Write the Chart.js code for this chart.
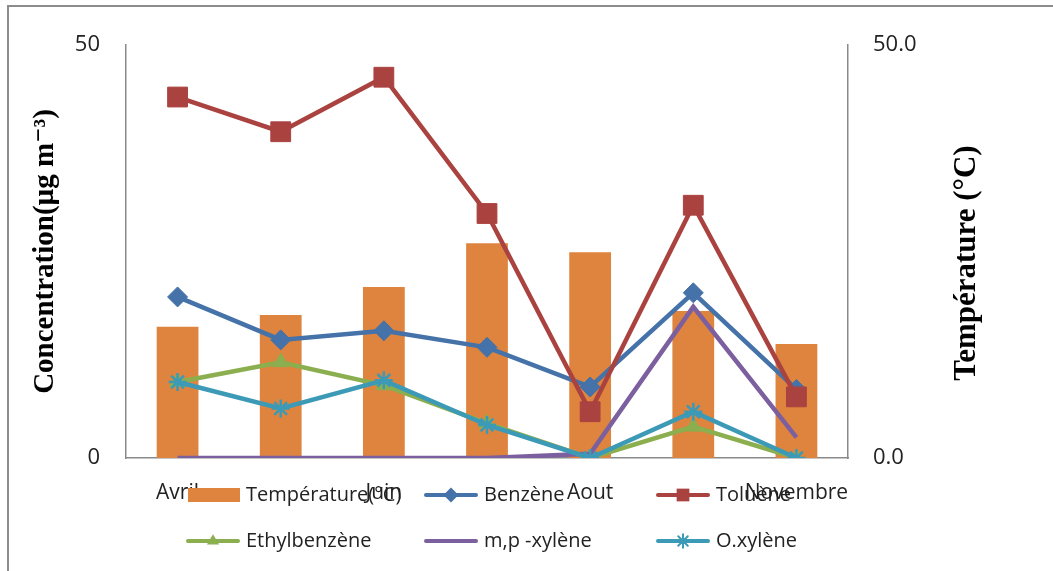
<!DOCTYPE html>
<html>
<head>
<meta charset="utf-8">
<script src="https://cdn.jsdelivr.net/npm/chart.js@4"></script>
<style>
  html, body { margin: 0; padding: 0; background: #fff; }
  #wrap { width: 1053px; height: 571px; position: relative; }
</style>
</head>
<body>
<div id="wrap"><canvas id="chart"></canvas></div>
<script>
// values
const categories = ['Avril', 'Mai', 'Juin', 'Juillet', 'Aout', 'Septembre', 'Novembre'];
const temperature = [15.9, 17.3, 20.7, 26.0, 24.9, 17.8, 13.8];
const benzene = [19.5, 14.3, 15.4, 13.4, 8.6, 20.0, 8.3];
const toluene = [43.7, 39.5, 46.1, 29.6, 5.6, 30.6, 7.4];
const ethylbenzene = [9.2, 11.6, 8.8, 4.2, 0, 3.8, 0];
const mpXylene = [0, 0, 0, 0, 0.5, 18.3, 2.5];
const oXylene = [9.2, 6.0, 9.4, 4.0, 0, 5.6, 0];
const leftTicks = [0, 50];
const rightTicks = [0, 50];

const sansFont = "'Open Sans', 'Noto Sans', sans-serif";
const serifFont = "'Liberation Serif', 'DejaVu Serif', serif";

// small marker drawer, used for the legend swatches
function drawMarker(ctx, style, x, y, r, color) {
  ctx.save();
  ctx.fillStyle = color;
  ctx.strokeStyle = color;
  ctx.lineWidth = 2;
  ctx.beginPath();
  if (style === 'rect') {
    const s = r * Math.SQRT1_2;
    ctx.rect(x - s, y - s, 2 * s, 2 * s);
    ctx.fill();
  } else if (style === 'rectRot') {
    ctx.moveTo(x, y - r); ctx.lineTo(x + r, y); ctx.lineTo(x, y + r); ctx.lineTo(x - r, y);
    ctx.closePath(); ctx.fill();
  } else if (style === 'triangle') {
    ctx.moveTo(x, y - r); ctx.lineTo(x + r * 0.9, y + r * 0.5); ctx.lineTo(x - r * 0.9, y + r * 0.5);
    ctx.closePath(); ctx.fill();
  } else if (style === 'star') {
    for (let k = 0; k < 4; k++) {
      const a = k * Math.PI / 4;
      ctx.moveTo(x - Math.cos(a) * r, y - Math.sin(a) * r);
      ctx.lineTo(x + Math.cos(a) * r, y + Math.sin(a) * r);
    }
    ctx.stroke();
  }
  ctx.restore();
}

const legendCols = [186, 424, 656];
const legendRows = [495, 541];

const extrasPlugin = {
  id: 'extras',
  beforeDraw(chart) {
    const ctx = chart.ctx;
    ctx.save();
    ctx.strokeStyle = '#8c8c8c';
    ctx.lineWidth = 2;
    ctx.beginPath();
    ctx.moveTo(8, 571); ctx.lineTo(8, 6); ctx.lineTo(1053, 6);
    ctx.stroke();
    ctx.restore();
  },
  afterDraw(chart) {
    const ctx = chart.ctx;
    // right axis title, reading bottom to top
    ctx.save();
    ctx.translate(967, 263);
    ctx.rotate(-Math.PI / 2);
    ctx.font = 'bold 31px ' + serifFont;
    ctx.fillStyle = '#000';
    ctx.textAlign = 'center';
    ctx.textBaseline = 'middle';
    ctx.fillText('Température (°C)', 0, 0);
    ctx.restore();

    // legend in three columns
    ctx.save();
    ctx.font = '20px ' + sansFont;
    ctx.textBaseline = 'middle';
    chart.data.datasets.forEach((ds, i) => {
      const x = legendCols[i % 3];
      const y = legendRows[Math.floor(i / 3)];
      if (ds.type === 'bar') {
        ctx.fillStyle = ds.backgroundColor;
        ctx.fillRect(x + 2, y - 7, 52, 14);
      } else {
        ctx.strokeStyle = ds.borderColor;
        ctx.lineWidth = 4;
        ctx.lineCap = 'round';
        ctx.beginPath();
        ctx.moveTo(x + 2, y); ctx.lineTo(x + 52, y);
        ctx.stroke();
        if (ds.pointRadius > 0) {
          drawMarker(ctx, ds.pointStyle, x + 27, y, Math.min(ds.pointRadius * 0.75, 9), ds.pointBackgroundColor);
        }
      }
      ctx.fillStyle = '#222';
      ctx.fillText(ds.label, x + 60, y);
    });
    ctx.restore();
  }
};

function lineSet(label, data, color, style, radius, order) {
  return {
    type: 'line',
    label: label,
    data: data,
    yAxisID: 'y',
    borderColor: color,
    borderWidth: 4.5,
    pointStyle: style,
    pointRadius: radius,
    pointBackgroundColor: color,
    pointBorderColor: color,
    pointBorderWidth: style === 'star' ? 2.5 : 1,
    tension: 0,
    order: order
  };
}

new Chart(document.getElementById('chart'), {
  data: {
    labels: categories,
    datasets: [
      {
        type: 'bar',
        label: 'Température(°C)',
        data: temperature,
        yAxisID: 'y1',
        backgroundColor: '#de843f',
        barPercentage: 0.9,
        categoryPercentage: 0.45,
        order: 10
      },
      lineSet('Benzène', benzene, '#4472a9', 'rectRot', 10, 6),
      lineSet('Toluène', toluene, '#aa4240', 'rect', 14, 5),
      lineSet('Ethylbenzène', ethylbenzene, '#8bae4f', 'triangle', 9, 4),
      lineSet('m,p -xylène', mpXylene, '#7c5f9e', 'circle', 0, 3),
      lineSet('O.xylène', oXylene, '#3c9ab6', 'star', 9, 2)
    ]
  },
  options: {
    responsive: true,
    maintainAspectRatio: false,
    animation: false,
    layout: { padding: { top: 45, left: 8, right: 0, bottom: 0 } },
    plugins: {
      legend: { display: false },
      tooltip: { enabled: false }
    },
    scales: {
      x: {
        offset: true,
        grid: { display: false, drawTicks: false },
        border: { display: true, color: '#8a8a8a', width: 1.5 },
        ticks: {
          autoSkip: false,
          maxRotation: 0,
          padding: 22,
          color: '#222',
          font: { family: sansFont, size: 21 },
          callback: (v, i) => (i % 2 === 0 ? categories[i] : '')
        },
        afterFit: s => { s.height = 113; }
      },
      y: {
        position: 'left',
        min: leftTicks[0],
        max: leftTicks[1],
        afterBuildTicks: s => { s.ticks = leftTicks.map(v => ({ value: v })); },
        grid: { display: false, drawTicks: false },
        border: { display: true, color: '#8a8a8a', width: 1.5 },
        ticks: {
          padding: 26,
          color: '#222',
          font: { family: sansFont, size: 22 }
        },
        title: {
          display: true,
          text: 'Concentration(µg m⁻³)',
          color: '#000',
          font: { family: serifFont, size: 29, weight: 'bold' },
          padding: { top: 20, bottom: 0 }
        },
        afterFit: s => { s.width = 118; }
      },
      y1: {
        position: 'right',
        min: rightTicks[0],
        max: rightTicks[1],
        afterBuildTicks: s => { s.ticks = rightTicks.map(v => ({ value: v })); },
        grid: { display: false, drawTicks: false },
        border: { display: true, color: '#8a8a8a', width: 1.5 },
        ticks: {
          padding: 25,
          color: '#222',
          font: { family: sansFont, size: 22 },
          callback: v => Number(v).toFixed(1)
        },
        afterFit: s => { s.width = 205; }
      }
    }
  },
  plugins: [extrasPlugin]
});
</script>
</body>
</html>
